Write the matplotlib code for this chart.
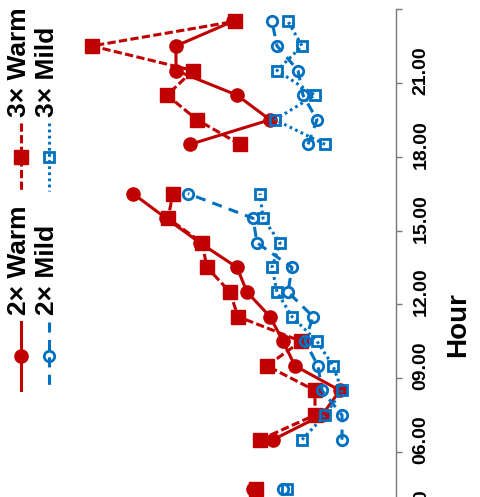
import numpy as np
import matplotlib
matplotlib.use("Agg")
import matplotlib.pyplot as plt

nan = np.nan

# hour bins (plotted at bin centre)
hours = [4.5, 5.5, 6.5, 7.5, 8.5, 9.5, 10.5, 11.5, 12.5, 13.5, 14.5, 15.5,
         16.5, 17.5, 18.5, 19.5, 20.5, 21.5, 22.5, 23.5]

warm_2x = [14.7, nan, 12.7, 7.8, 6.0, 10.5, 11.7, 13.0, 15.3, 16.3, 20.0, 23.4,
           26.7, nan, 21.0, 13.0, 16.3, 22.4, 22.4, 16.7]
warm_3x = [14.4, nan, 14.0, 8.5, 8.5, 13.3, 9.9, 16.2, 17.0, 19.3, 19.8, 23.2,
           22.7, nan, 16.0, 20.3, 23.3, 20.7, 30.8, 16.5]
mild_2x = [11.7, nan, 5.8, 5.8, 7.8, 8.2, 9.5, 8.7, 11.2, 10.8, 14.3, 14.7,
           21.2, nan, 9.2, 8.3, 9.7, 10.2, 12.3, 12.8]
mild_3x = [11.3, nan, 9.8, 7.5, 5.8, 6.7, 8.3, 10.8, 12.3, 12.8, 12.0, 13.7,
           14.0, nan, 7.5, 12.5, 8.5, 12.3, 9.8, 11.2]

tick_hours = [3, 6, 9, 12, 15, 18, 21, 24]
label_hours = [3.5, 6.5, 9.5, 12.5, 15.5, 18.5, 21.5]
label_text = ["03.00", "06.00", "09.00", "12.00", "15.00", "18.00", "21.00"]

RED = "#C00000"
BLUE = "#0070C0"
LW = 2.2

series = [
    ("2\u00d7 Warm", warm_2x, dict(color=RED, ls="-", marker="o", ms=9.5)),
    ("3\u00d7 Warm", warm_3x, dict(color=RED, ls=(0, (2.7, 1.1)), marker="s", ms=10)),
    ("2\u00d7 Mild", mild_2x, dict(color=BLUE, ls=(0, (3.3, 2.4)), marker="o", ms=7.5,
                                   mfc="none", mew=2)),
    ("3\u00d7 Mild", mild_3x, dict(color=BLUE, ls=(0, (0.9, 1.1)), marker="s", ms=7.5,
                                   mfc="none", mew=2)),
]

W, H = 481, 497
fig = plt.figure(figsize=(W / 100, H / 100), dpi=100)
ax = fig.add_axes([0, 0, 396 / W, 1])

for name, vals, st in series:
    ax.plot(vals, hours, lw=LW, **st)

for s in ["top", "left", "bottom"]:
    ax.spines[s].set_visible(False)
ax.set_xticks([])
ax.yaxis.tick_right()
ax.set_yticks(tick_hours)
ax.set_yticklabels([])
ax.tick_params(axis="y", which="major", length=4.5, width=1, color="#777777")
ax.set_yticks(label_hours, minor=True)
ax.set_yticklabels(label_text, minor=True, rotation=90, fontsize=14,
                   fontweight="bold", family="Liberation Sans")
ax.tick_params(axis="y", which="minor", length=0, pad=12)
for t in ax.get_yticklabels(minor=True):
    t.set_va("center")

# value axis runs right-to-left, hour axis bottom-to-top (set after ticks)
ax.set_xlim(40, 0.4)
ppu = 24.61
ax.set_ylim(6 - 45 / ppu, 6 + 452 / ppu)
ax.spines["right"].set_color("#777777")
ax.spines["right"].set_linewidth(1)
ax.spines["right"].set_bounds(ax.get_ylim()[0], 24)

# the 03.00 label sits mostly below the picture edge, as in the original crop
ax.text(1.0, 3.5, "03.00", transform=ax.get_yaxis_transform(), rotation=90,
        ha="left", va="center", fontsize=14, fontweight="bold",
        family="Liberation Sans", clip_on=False,
        bbox=None).set_x(1.0 + 17 / 396)

fig.text(458 / W, 1 - 325 / H, "Hour", rotation=90, ha="center", va="center",
         fontsize=20, fontweight="bold", family="Liberation Sans")

# legend, drawn rotated in pixel coordinates
lg = fig.add_axes([0, 0, 1, 1])
lg.set_xlim(0, W)
lg.set_ylim(H, 0)
lg.axis("off")
spots = [(21, 356, 315), (21, 157, 117), (49, 356, 315), (49, 157, 117)]
for (name, vals, st), (x, ym, yt) in zip(series, spots):
    lg.plot([x, x], [ym - 34, ym + 34], lw=LW, **{k: v for k, v in st.items()
                                                 if k not in ("marker", "ms", "mfc", "mew")})
    lg.plot([x], [ym], ls="none", color=st["color"], marker=st["marker"], ms=st["ms"],
            mfc=st.get("mfc", st["color"]), mew=st.get("mew", 1))
    lg.text(x - 2, yt, name, rotation=90, rotation_mode="anchor", ha="left",
            va="center", fontsize=19, fontweight="bold", family="Liberation Sans")

fig.savefig("out.png", dpi=100)
